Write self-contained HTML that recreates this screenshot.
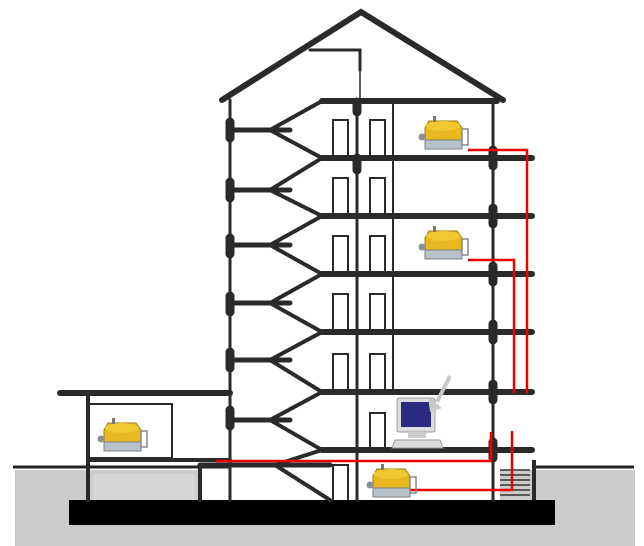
<!DOCTYPE html>
<html><head><style>body{margin:0;background:#fff}svg{display:block}</style></head><body>
<svg width="644" height="546" viewBox="0 0 644 546" xmlns="http://www.w3.org/2000/svg">
<defs>
<g id="dev">
<path d="M6 12 L10 5 L38 5 L43 12 L43 26 L6 26 Z" fill="#e8b820" stroke="#9a7a10" stroke-width="1"/>
<ellipse cx="24" cy="10" rx="17" ry="5" fill="#f0c830"/>
<rect x="6" y="24" width="37" height="9" fill="#b8c0c8" stroke="#7a8088" stroke-width="1"/>
<rect x="43" y="13" width="6" height="16" fill="none" stroke="#888" stroke-width="1.5"/>
<circle cx="3" cy="21" r="3.5" fill="#8a9098"/>
<rect x="14" y="0" width="3" height="6" fill="#777"/>
</g>
</defs>
<!-- ground -->
<rect x="15" y="470" width="620" height="76" fill="#cccccc"/>
<rect x="200" y="468" width="300" height="33" fill="#fff"/>
<rect x="93" y="474" width="102" height="26" fill="#d6d6d6"/>
<path d="M13 467 H230" stroke="#222" stroke-width="3"/>
<path d="M535 467 H634" stroke="#222" stroke-width="3"/>
<rect x="69" y="500" width="486" height="25" fill="#000"/>
<g stroke="#2a2a2a" fill="none" stroke-linecap="round">
<path d="M222 100 L361 12 L503 100" stroke-width="6"/>
<path d="M310 50 H360 V70" stroke-width="3"/>
<path d="M360 70 V102" stroke-width="1.5"/>
<path d="M230 100 V500" stroke-width="3"/>
<path d="M493 100 V500" stroke-width="3"/>
<path d="M357 100 V500" stroke-width="3"/>
<path d="M393 100 V392" stroke-width="2"/>
<path d="M322 101 H497" stroke-width="6"/>
<path d="M322 158 H532 M322 216 H532 M322 274 H532 M322 332 H532 M322 392 H532 M322 450 H532" stroke-width="6"/>
<path d="M60 393 H230" stroke-width="6"/>
<path d="M200 465 H330" stroke-width="5"/>
<path d="M230 130 H290 M230 190 H290 M230 245 H290 M230 303 H290 M230 360 H290 M230 420 H290" stroke-width="5"/>
<path d="M322 101 L270 130 L322 158 L270 190 L322 216 L270 245 L322 274 L270 303 L322 332 L270 360 L322 392 L270 420 L322 450 L275 465 L330 500" stroke-width="4" stroke-dasharray="3 1"/>
<path d="M333 158 V120 H348 V158 M370 158 V120 H385 V158 M333 216 V178 H348 V216 M370 216 V178 H385 V216 M333 274 V236 H348 V274 M370 274 V236 H385 V274 M333 332 V294 H348 V332 M370 332 V294 H385 V332 M333 392 V354 H348 V392 M370 392 V354 H385 V392 M370 450 V413 H385 V450 M333 500 V465 H348 V500" stroke-width="2"/>
<path d="M88 393 V500 M200 467 V500" stroke-width="4"/>
<path d="M90 404 H172 V458 H90" stroke-width="2"/>
<path d="M88 460 H230" stroke-width="4"/>
<path d="M230 122 V138 M230 182 V198 M230 238 V254 M230 296 V312 M230 352 V368 M230 410 V426 M493 150 V166 M493 208 V224 M493 266 V282 M493 324 V340 M493 384 V400 M493 442 V458 M357 102 V112 M357 158 V170" stroke-width="9"/>
</g>
<g stroke="#333" stroke-width="1.5"><path d="M500 470 H530 M500 475 H530 M500 480 H530 M500 485 H530 M500 490 H530 M500 495 H530"/></g>
<path d="M534 460 V500" stroke="#2a2a2a" stroke-width="4"/>
<g stroke="#ee0000" stroke-width="2.5" fill="none">
<path d="M468 150 H527 V393"/>
<path d="M468 260 H514 V393"/>
<path d="M216 461 H491 V432"/>
<path d="M410 490 H512 V431"/>
</g>
<use href="#dev" x="419" y="116"/>
<use href="#dev" x="419" y="226"/>
<use href="#dev" x="98" y="418"/>
<use href="#dev" x="367" y="464"/>
<rect x="397" y="398" width="38" height="34" rx="2" fill="#ddd" stroke="#999"/>
<rect x="401" y="402" width="30" height="25" fill="#2a2a80"/>
<rect x="408" y="432" width="18" height="6" fill="#ccc"/>
<path d="M395 440 H440 L443 448 H392 Z" fill="#ddd" stroke="#999"/>
<path d="M450 376 L437 402" stroke="#c8c8c8" stroke-width="4"/>
<path d="M428 396 L442 408 L430 412 Z" fill="#c8c8c8"/>
</svg>
</body></html>
